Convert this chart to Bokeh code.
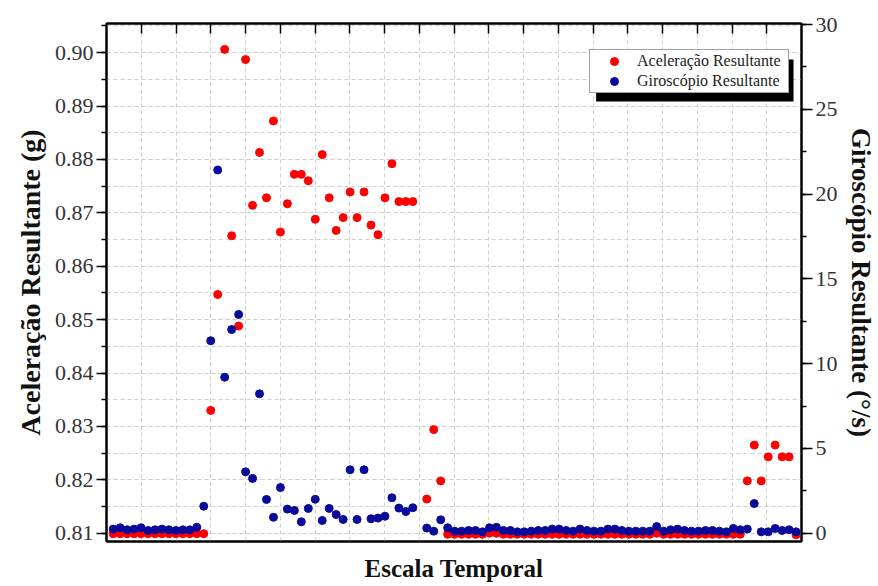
from bokeh.plotting import figure
from bokeh.models import (Range1d, LinearAxis, SingleIntervalTicker, FixedTicker,
                          PrintfTickFormatter, Legend, LegendItem, BoxAnnotation,
                          ColumnDataSource)
from bokeh.embed import file_html
from bokeh.resources import INLINE

# ---------------- data ----------------
amostra = [i for i in range(99) if i != 44]

acel_repouso1 = [0.8099] * 14
acel_movimento = [0.8330, 0.8547, 0.9006, 0.8657, 0.8488, 0.8987, 0.8714, 0.8813,
                  0.8728, 0.8872, 0.8664, 0.8717, 0.8772, 0.8772, 0.8760, 0.8688,
                  0.8809, 0.8728, 0.8667, 0.8691, 0.8739, 0.8691, 0.8739, 0.8677,
                  0.8659, 0.8728, 0.8792, 0.8721, 0.8721, 0.8721]
acel_transicao = [0.8164, 0.8294, 0.8198]
acel_repouso2 = [0.8098, 0.8098, 0.8098, 0.8098, 0.8098, 0.8098, 0.8100, 0.8100,
                 0.8098, 0.8098, 0.8098, 0.8098, 0.8098, 0.8098, 0.8098, 0.8098,
                 0.8098, 0.8098, 0.8098, 0.8098, 0.8098, 0.8098, 0.8098, 0.8098,
                 0.8098, 0.8098, 0.8098, 0.8098, 0.8098, 0.8098, 0.8100, 0.8098,
                 0.8098, 0.8098, 0.8098, 0.8098, 0.8098, 0.8098, 0.8098, 0.8098,
                 0.8098, 0.8098, 0.8098]
acel_final = [0.8198, 0.8265, 0.8198, 0.8243, 0.8265, 0.8243, 0.8243, 0.8097]

giro_repouso1 = [0.24, 0.32, 0.20, 0.24, 0.32, 0.16, 0.20, 0.24, 0.20, 0.16,
                 0.20, 0.20, 0.35, 1.59]
giro_movimento = [11.35, 21.42, 9.20, 12.01, 12.90, 3.62, 3.23, 8.22, 1.99, 0.94,
                  2.69, 1.42, 1.34, 0.67, 1.46, 2.00, 0.75, 1.46, 1.10, 0.81,
                  3.74, 0.81, 3.74, 0.85, 0.89, 1.00, 2.09, 1.48, 1.28, 1.50]
giro_transicao = [0.30, 0.12, 0.79]
giro_repouso2 = [0.32, 0.12, 0.12, 0.16, 0.16, 0.08, 0.32, 0.35, 0.16, 0.16,
                 0.08, 0.08, 0.12, 0.16, 0.16, 0.24, 0.24, 0.16, 0.12, 0.24,
                 0.16, 0.12, 0.12, 0.24, 0.24, 0.16, 0.12, 0.12, 0.12, 0.12,
                 0.39, 0.12, 0.20, 0.24, 0.16, 0.12, 0.12, 0.16, 0.16, 0.12,
                 0.08, 0.28, 0.20]
giro_final = [0.24, 1.75, 0.08, 0.08, 0.28, 0.16, 0.20, 0.08]

acel = acel_repouso1 + acel_movimento + acel_transicao + acel_repouso2 + acel_final
giro = giro_repouso1 + giro_movimento + giro_transicao + giro_repouso2 + giro_final

left_ticks_interval = 0.01
right_ticks_interval = 5

# ---------------- layout ----------------
FONT = "Liberation Serif"
X0, X1 = -0.96, 98.78
Y0, Y1 = 0.80845, 0.90545
G0, G1 = -0.49, 30.06
FL, FT, FW, FH = 106, 23, 697, 518


def px2x(px):
    return X0 + (px - FL) / FW * (X1 - X0)


def py2y(py):
    return Y1 - (py - FT) / FH * (Y1 - Y0)


p = figure(width=878, height=586, output_backend="svg", toolbar_location=None,
           x_range=Range1d(X0, X1), y_range=Range1d(Y0, Y1),
           min_border_left=FL, min_border_top=FT,
           min_border_right=878 - FL - FW, min_border_bottom=586 - FT - FH,
           x_axis_location=None, y_axis_location=None)
p.extra_y_ranges = {"giro": Range1d(G0, G1)}
p.background_fill_color = "white"
p.border_fill_color = "white"
p.outline_line_color = "black"
p.outline_line_width = 2

grid_x = [X0 + (X1 - X0) * k / 20 for k in range(1, 20)]

# left axis
lt = SingleIntervalTicker(interval=left_ticks_interval, num_minor_ticks=2)
ax_l = LinearAxis(ticker=lt, formatter=PrintfTickFormatter(format="%.2f"),
                  axis_label="Aceleração Resultante (g)")
ax_l.axis_line_width = 2
ax_l.major_tick_out = 10
ax_l.major_tick_in = 0
ax_l.minor_tick_out = 5
ax_l.minor_tick_in = 0
ax_l.major_tick_line_width = 1.5
ax_l.minor_tick_line_width = 1.5
ax_l.major_label_text_font = FONT
ax_l.major_label_text_font_size = "22px"
ax_l.major_label_text_color = "#333333"
ax_l.major_label_standoff = 3
ax_l.axis_label_text_font = FONT
ax_l.axis_label_text_font_style = "bold"
ax_l.axis_label_text_font_size = "28px"
ax_l.axis_label_text_color = "#111111"
ax_l.axis_label_standoff = 6
p.add_layout(ax_l, "left")

# right axis
rt = SingleIntervalTicker(interval=right_ticks_interval, num_minor_ticks=2)
ax_r = LinearAxis(y_range_name="giro", ticker=rt,
                  axis_label="Giroscópio Resultante (°/s)")
ax_r.axis_line_width = 2
ax_r.major_tick_out = 11
ax_r.major_tick_in = 0
ax_r.minor_tick_out = 5
ax_r.minor_tick_in = 0
ax_r.major_tick_line_width = 1.5
ax_r.minor_tick_line_width = 1.5
ax_r.major_label_text_font = FONT
ax_r.major_label_text_font_size = "22px"
ax_r.major_label_text_color = "#333333"
ax_r.major_label_standoff = 3
ax_r.axis_label_text_font = FONT
ax_r.axis_label_text_font_style = "bold"
ax_r.axis_label_text_font_size = "27px"
ax_r.axis_label_text_color = "#111111"
ax_r.axis_label_standoff = 5
p.add_layout(ax_r, "right")

# top axis (ticks inside, no labels)
ax_t = LinearAxis(ticker=FixedTicker(ticks=grid_x))
ax_t.axis_line_width = 2
ax_t.major_tick_in = 10
ax_t.major_tick_out = 0
ax_t.major_tick_line_width = 1.5
ax_t.minor_tick_line_color = None
ax_t.major_label_text_font_size = "2px"
ax_t.major_label_text_color = None
ax_t.major_label_standoff = 0
p.add_layout(ax_t, "above")

# bottom axis (no ticks)
ax_b = LinearAxis(ticker=FixedTicker(ticks=[]), axis_label="Escala Temporal")
ax_b.axis_line_width = 2
ax_b.major_tick_line_color = None
ax_b.minor_tick_line_color = None
ax_b.major_label_text_font_size = "2px"
ax_b.major_label_text_color = None
ax_b.major_label_standoff = 0
ax_b.axis_label_text_font = FONT
ax_b.axis_label_text_font_style = "bold"
ax_b.axis_label_text_font_size = "25px"
ax_b.axis_label_text_color = "#111111"
ax_b.axis_label_standoff = 13
p.add_layout(ax_b, "below")

# grids
p.xgrid.ticker = FixedTicker(ticks=grid_x)
p.ygrid.ticker = lt
for g in (p.xgrid[0], p.ygrid[0]):
    g.grid_line_color = "#cfcfcf"
    g.grid_line_dash = "4 3"
    g.grid_line_width = 1
p.ygrid[0].minor_grid_line_color = "#cfcfcf"
p.ygrid[0].minor_grid_line_dash = "4 3"
p.ygrid[0].minor_grid_line_width = 1

# data
src = ColumnDataSource(dict(x=amostra, acel=acel, giro=giro))
r_acel = p.scatter("x", "acel", source=src, size=8, marker="circle",
                   fill_color="#ff0000", line_color="#ff0000")
r_giro = p.scatter("x", "giro", source=src, size=8, marker="circle",
                   fill_color="#0a0a9a", line_color="#0a0a9a", y_range_name="giro")

# legend shadow
shadow = BoxAnnotation(left=px2x(597), right=px2x(795), top=py2y(59), bottom=py2y(101),
                       fill_color="black", fill_alpha=1.0, line_color=None)
p.add_layout(shadow)

legend = Legend(items=[LegendItem(label="Aceleração Resultante", renderers=[r_acel]),
                       LegendItem(label="Giroscópio Resultante", renderers=[r_giro])],
                location=(589 - FL, FT + FH - 93))
legend.padding = 1
legend.spacing = 0
legend.margin = 0
legend.glyph_width = 46
legend.glyph_height = 20
legend.label_height = 20
legend.label_width = 150
legend.label_standoff = 0
legend.label_text_font = FONT
legend.label_text_font_size = "16px"
legend.label_text_color = "#222222"
legend.border_line_color = "#444444"
legend.border_line_width = 1
legend.background_fill_color = "white"
legend.background_fill_alpha = 1.0
p.add_layout(legend)

open("out.html", "w").write(file_html(p, INLINE))
